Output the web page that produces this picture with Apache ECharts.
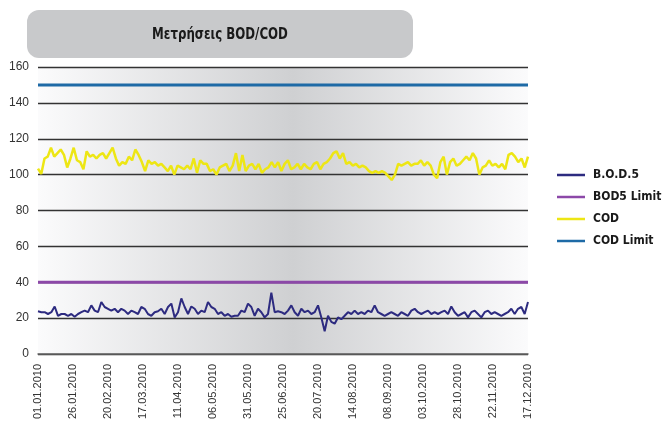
<!DOCTYPE html>
<html>
<head>
<meta charset="utf-8">
<script src="https://cdn.jsdelivr.net/npm/echarts@6/dist/echarts.min.js"></script>
<style>
  html, body { margin: 0; padding: 0; background: #fff; }
</style>
</head>
<body>
<div id="chartBodCod" style="width: 667px;height: 433px"></div>
<script>
  // x-axis labels, one every 25 days
  const tickLabels = ['01.01.2010', '26.01.2010', '20.02.2010', '17.03.2010', '11.04.2010',
    '06.05.2010', '31.05.2010', '25.06.2010', '20.07.2010', '14.08.2010',
    '08.09.2010', '03.10.2010', '28.10.2010', '22.11.2010', '17.12.2010']
  const dayMax = 350

  const bod = [
    23.8, 23.3, 23.3, 22.3, 23.3, 26.5, 21.3, 22.3, 22.3, 21.3, 22.3, 20.8, 22.3, 23.3, 24.2, 23.3,
    27.1, 24.2, 23.3, 29, 26.2, 25.2, 24.2, 25.2, 23.3, 25.2, 24.2, 22.3, 24.2, 23.3, 22.3, 26.2,
    25.2, 22.3, 21.3, 23.3, 23.8, 25.2, 22.3, 26.2, 28.1, 20.4, 23.3, 31, 26.2, 22.3, 26.5, 25.2,
    22.3, 24.2, 23.3, 29, 26.2, 25.2, 22.3, 23.3, 21.3, 22.3, 20.8, 21.3,
    21.3, 24.2, 23.3, 28.1, 26.2, 21.3, 25.2, 23.3, 20.4, 22.3, 34.2, 23.3, 23.8, 23.3, 22.3, 24.2,
    27.1, 23.3, 21.3, 25.2, 23.3, 24.2, 22.3, 23.3, 27.1, 20.4, 12.7, 21.3, 17.9, 16.9, 20.4, 19.4,
    21.3, 23.3, 22.3, 24.2, 22.3, 23.3, 22.3, 24.2, 23.3, 27.1, 23.3, 22.3, 21.3, 22.3, 23.3, 22.3,
    21.3, 23.3, 22.3, 21.3, 24.2, 25.2, 23.3, 22.3, 23.3, 24.2, 22.3, 23.3,
    22.3, 23.3, 24.2, 22.3, 26.5, 23.3, 21.3, 22.3, 23.3, 20.4, 23.3, 24.2, 22.3, 20.4, 23.3, 24.2,
    22.3, 23.3, 22.3, 21.3, 22.3, 23.3, 25.2, 22.3, 25.2, 26.2, 22.3, 29
  ]
  // COD measurements
  const cod = [
    103.3, 100.4, 109, 110, 115, 110, 112, 114, 111, 104, 109, 115, 108, 107, 103, 113,
    110, 111, 109, 111, 112, 109, 112, 115, 109, 105, 107, 106, 110, 108, 114, 111,
    107, 102, 108, 106, 107, 105, 106, 104, 102, 105, 100, 105, 104, 103, 105, 103,
    109, 101, 108, 106, 106, 102, 103, 100, 104, 105,
    106, 102, 105, 112, 102, 111, 102, 105, 106, 103, 106, 101, 103, 104, 107, 104,
    107, 102, 106, 108, 103, 104, 106, 103, 106, 104, 103, 106, 107, 103, 106, 107,
    109, 112, 113, 109, 112, 106, 107, 105, 106, 104, 105, 104, 102, 101, 102, 101,
    102, 101, 99, 97, 100, 106, 105, 106, 107, 105, 106,
    106, 108, 105, 107, 105, 100, 98, 107, 110, 100, 107, 109, 105, 106, 108, 110,
    108, 112, 109, 100, 104, 105, 108, 105, 106, 104, 106, 103, 111, 112, 110, 107,
    109, 104, 110
  ]
  const bodLimit = [40, 40]
  const codLimit = [150, 150]

  const spread = (arr) => arr.map((v, i) => [i * dayMax / (arr.length - 1), v])

  const chart = echarts.init(document.getElementById('chartBodCod'))
  chart.setOption({
    animation: false,
    textStyle: { fontFamily: 'Liberation Sans' },
    graphic: [
      {
        type: 'rect',
        shape: { x: 27, y: 10, width: 386, height: 48, r: 12 },
        style: { fill: '#c8c9cb' },
      },
      {
        type: 'text',
        x: 220,
        y: 35,
        scaleX: 0.82,
        style: {
          text: 'Μετρήσεις BOD/COD',
          fill: '#1a1a1a',
          font: 'bold 16px "DejaVu Sans Condensed", "DejaVu Sans"',
          align: 'center',
          verticalAlign: 'middle',
        },
      },
    ],
    legend: {
      orient: 'vertical',
      left: 552,
      top: 164,
      itemWidth: 28,
      itemHeight: 2.5,
      itemGap: 10,
      icon: 'rect',
      textStyle: {
        fontFamily: '"DejaVu Sans Condensed", "DejaVu Sans"',
        fontWeight: 'bold',
        fontSize: 12,
        color: '#1a1a1a',
        padding: [0, 0, 0, 3],
      },
      data: ['B.O.D.5', 'BOD5 Limit', 'COD', 'COD Limit'],
    },
    grid: {
      left: 38,
      right: 139,
      top: 67,
      bottom: 79,
      show: true,
      borderWidth: 0,
      backgroundColor: {
        type: 'linear', x: 0, y: 0, x2: 1, y2: 0,
        colorStops: [
          { offset: 0, color: '#fbfbfc' },
          { offset: 0.52, color: '#cfd0d2' },
          { offset: 1, color: '#fbfbfc' },
        ],
      },
    },
    xAxis: {
      type: 'value',
      min: 0,
      max: dayMax,
      interval: 25,
      axisLine: { lineStyle: { color: '#666', width: 1.5 } },
      axisTick: { show: false },
      splitLine: { show: false },
      axisLabel: {
        rotate: 90,
        margin: 10,
        fontSize: 11,
        color: '#333',
        formatter: (v) => tickLabels[Math.round(v / 25)],
      },
    },
    yAxis: {
      type: 'value',
      min: 0,
      max: 160,
      interval: 20,
      axisLine: { show: false },
      axisTick: { show: false },
      axisLabel: { fontSize: 12, color: '#333', margin: 9 },
      splitLine: { lineStyle: { color: '#333', width: 1.3 } },
    },
    series: [
      {
        name: 'B.O.D.5',
        type: 'line',
        data: spread(bod),
        symbol: 'none',
        color: '#2d2b80',
        lineStyle: { width: 2 },
      },
      {
        name: 'BOD5 Limit',
        type: 'line',
        data: spread(bodLimit),
        symbol: 'none',
        color: '#8c48a8',
        lineStyle: { width: 3 },
      },
      {
        name: 'COD',
        type: 'line',
        data: spread(cod),
        symbol: 'none',
        color: '#ede614',
        lineStyle: { width: 2.5 },
      },
      {
        name: 'COD Limit',
        type: 'line',
        data: spread(codLimit),
        symbol: 'none',
        color: '#1e6aa6',
        lineStyle: { width: 3 },
      },
    ],
  })
</script>
</body>
</html>
